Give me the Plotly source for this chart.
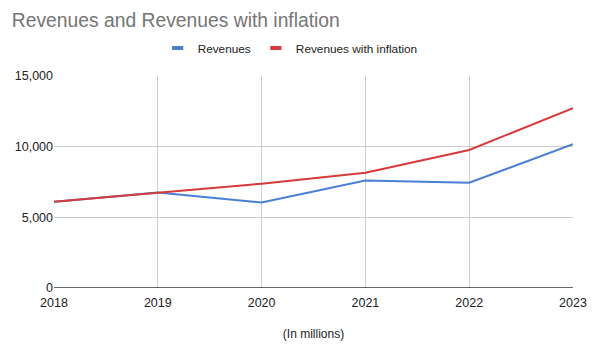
import plotly.graph_objects as go

years = ["2018", "2019", "2020", "2021", "2022", "2023"]
revenues = [6100, 6750, 6050, 7600, 7450, 10170]
revenues_inflation = [6100, 6750, 7380, 8150, 9770, 12720]

font_family = "Arial, Liberation Sans, sans-serif"
blue = "#4a7fd6"
red = "#d63a3a"

fig = go.Figure()
fig.add_trace(go.Scatter(x=years, y=revenues, mode="lines", name="Revenues",
                         line=dict(color=blue, width=2), showlegend=False, legendgroup="a"))
fig.add_trace(go.Scatter(x=years, y=revenues_inflation, mode="lines", name="Revenues with inflation",
                         line=dict(color=red, width=2), showlegend=False, legendgroup="b"))
# legend-only markers (short thick dash like the reference)
fig.add_trace(go.Scatter(x=[None], y=[None], mode="markers", name="Revenues", legendgroup="a",
                         marker=dict(symbol="line-ew-open", size=8, color=blue, line=dict(color=blue, width=4))))
fig.add_trace(go.Scatter(x=[None], y=[None], mode="markers", name="Revenues with inflation", legendgroup="b",
                         marker=dict(symbol="line-ew-open", size=8, color=red, line=dict(color=red, width=4))))

fig.update_layout(
    width=592, height=359,
    margin=dict(l=54, r=19, t=76, b=71),
    paper_bgcolor="white", plot_bgcolor="white",
    font=dict(family=font_family, size=12, color="#222"),
    title=dict(text="Revenues and Revenues with inflation", x=0.02, xanchor="left", xref="container",
               y=0.944, yanchor="middle",
               font=dict(family=font_family, size=19.3, color="#757575")),
    legend=dict(orientation="h", x=0.455, xanchor="center", y=1.132, yanchor="middle",
                font=dict(size=11.8, color="#222"), bgcolor="rgba(0,0,0,0)", tracegroupgap=0),
    xaxis=dict(type="category", range=[0, 5], showgrid=True, gridcolor="#cccccc",
               tickfont=dict(size=12.5, color="#222"), ticks="", showline=False,
               ticklabelstandoff=5, automargin=False,
               title=dict(text="(In millions)", font=dict(size=12, color="#222"), standoff=21),
               zeroline=False),
    yaxis=dict(range=[0, 15000], tickvals=[0, 5000, 10000, 15000], tickformat=",",
               showgrid=True, gridcolor="#cccccc", ticks="", zeroline=False, automargin=False,
               showline=False, tickfont=dict(size=12.5, color="#222")),
    showlegend=True,
)
fig.add_shape(type="line", xref="paper", yref="y", x0=0, x1=1, y0=0, y1=0,
              line=dict(color="#333", width=1.5))

fig.write_html("out.html", config={"displayModeBar": False},
               post_script="document.body.style.margin='0';document.body.style.overflow='hidden';")
